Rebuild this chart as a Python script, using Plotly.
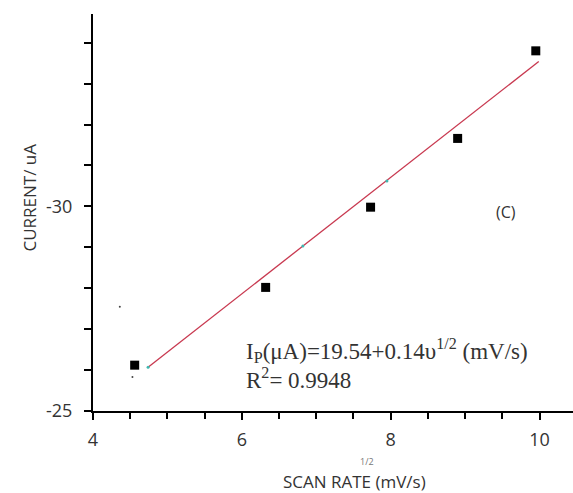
import plotly.graph_objects as go

# Data
scan_rate_sqrt = [4.56, 6.32, 7.73, 8.90, 9.95]
current = [-26.12, -28.02, -29.98, -31.66, -33.80]

fit_x = [4.74, 9.99]
fit_y = [-26.07, -33.54]

fit_marks_x = [4.74, 6.82, 7.95]
fit_marks_y = [-26.07, -29.03, -30.62]

stray_x = [4.36, 4.53]
stray_y = [-27.55, -25.83]

x_tickvals = [4, 6, 8, 10]
x_ticktext = ["4", "6", "8", "10"]
y_tickvals = [-25, -30]
y_ticktext = ["-25", "-30"]

fig = go.Figure()
fig.add_trace(go.Scatter(x=fit_x, y=fit_y, mode="lines",
                         line=dict(color="#c8384f", width=1.3), showlegend=False))
fig.add_trace(go.Scatter(x=fit_marks_x, y=fit_marks_y, mode="markers",
                         marker=dict(color="#3fb8b0", size=3), showlegend=False))
fig.add_trace(go.Scatter(x=stray_x, y=stray_y, mode="markers",
                         marker=dict(color="#444", size=2), showlegend=False))
fig.add_trace(go.Scatter(x=scan_rate_sqrt, y=current, mode="markers",
                         marker=dict(symbol="square", color="black", size=9),
                         showlegend=False))

sans = "Open Sans, Noto Sans, sans-serif"
tickfont = dict(family=sans, size=18, color="#333")

fig.update_layout(
    template="none",
    width=573, height=493,
    margin=dict(l=93, r=0, t=14, b=82),
    paper_bgcolor="white", plot_bgcolor="white",
    xaxis=dict(range=[4, 10.45], tickmode="array", tickvals=x_tickvals, ticktext=x_ticktext,
               showgrid=False, zeroline=False, automargin=False,
               showline=True, linecolor="black", linewidth=2,
               ticks="outside", ticklen=7, tickwidth=1.5, tickcolor="black",
               ticklabelstandoff=4,
               minor=dict(dtick=0.5, tick0=4, ticks="outside", ticklen=6, tickwidth=1.5,
                          tickcolor="black", showgrid=False),
               tickfont=tickfont),
    yaxis=dict(range=[-25, -34.7], tickmode="array", tickvals=y_tickvals, ticktext=y_ticktext,
               showgrid=False, zeroline=False, automargin=False,
               showline=True, linecolor="black", linewidth=2,
               ticks="outside", ticklen=7, tickwidth=1.5, tickcolor="black",
               ticklabelstandoff=8,
               minor=dict(dtick=1, tick0=-25, ticks="outside", ticklen=7, tickwidth=1.5,
                          tickcolor="black", showgrid=False),
               tickfont=tickfont),
)

# paper coords: plot area spans x 93..573 (480px), y 14..411 (397px)
fig.add_annotation(text="CURRENT/ uA", xref="paper", yref="paper",
                   x=(28.5 - 93) / 480, y=(411 - 198) / 397,
                   xanchor="center", yanchor="middle",
                   textangle=-90, showarrow=False,
                   font=dict(family=sans, size=17, color="#333"))
fig.add_annotation(text="SCAN RATE (mV/s)", xref="paper", yref="paper",
                   x=(354 - 93) / 480, y=(411 - 481) / 397,
                   xanchor="center", yanchor="middle", showarrow=False,
                   font=dict(family=sans, size=17, color="#333"))
fig.add_annotation(text="1/2", xref="paper", yref="paper",
                   x=(367 - 93) / 480, y=(411 - 461) / 397,
                   xanchor="center", yanchor="middle", showarrow=False,
                   font=dict(family=sans, size=9, color="#777"))
fig.add_annotation(text="(C)", x=9.55, y=-29.87, showarrow=False,
                   font=dict(family=sans, size=16, color="#333"))
fig.add_annotation(text="I<sub>P</sub>(μA)=19.54+0.14υ<sup>1/2</sup> (mV/s)", xref="paper", yref="paper",
                   x=(244 - 93) / 480, y=(411 - 350) / 397,
                   xanchor="left", yanchor="middle", showarrow=False,
                   font=dict(family="Liberation Serif, Times New Roman, serif", size=23, color="#333"))
fig.add_annotation(text="R<sup>2</sup>= 0.9948", xref="paper", yref="paper",
                   x=(244 - 93) / 480, y=(411 - 378) / 397,
                   xanchor="left", yanchor="middle", showarrow=False,
                   font=dict(family="Liberation Serif, Times New Roman, serif", size=23, color="#333"))

fig.write_html("out.html", config={"displayModeBar": False},
               post_script="document.body.style.margin='0';")
